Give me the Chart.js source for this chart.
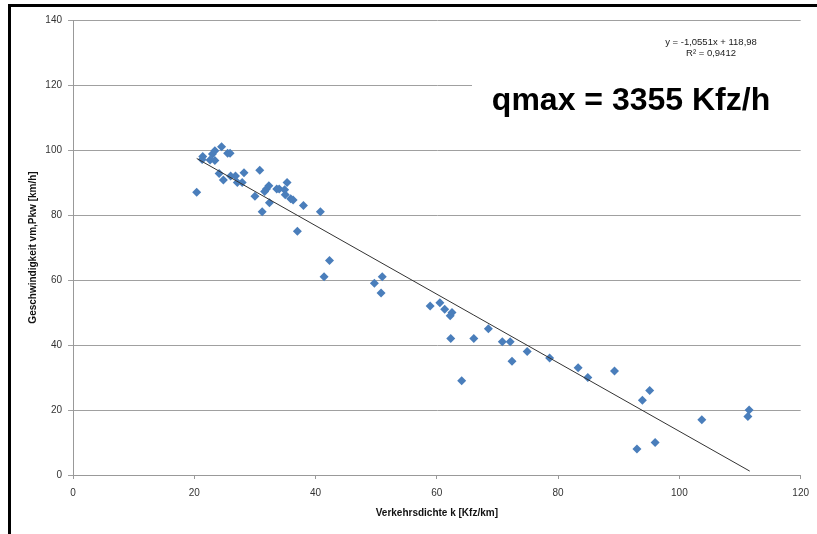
<!DOCTYPE html>
<html>
<head>
<meta charset="utf-8">
<script src="https://cdn.jsdelivr.net/npm/chart.js@4/dist/chart.umd.min.js"></script>
<style>
  html, body { margin: 0; padding: 0; background: #fff; }
  #wrap { width: 817px; height: 534px; }
</style>
</head>
<body>
<div id="wrap"><canvas id="c" width="817" height="534"></canvas></div>
<script>
// Verkehrsdichte k [Kfz/km]
const density = [
  20.4, 21.4, 21.3, 22.6, 23.0, 23.4, 23.4, 24.5, 25.5, 25.9,
  24.1, 24.8, 26.0, 26.8, 27.1, 27.9, 28.2, 30.8, 30.0, 31.2,
  31.6, 31.9, 32.3, 32.4, 33.6, 34.0, 35.3, 34.9, 35.0, 35.9,
  36.3, 38.0, 37.0, 40.8, 41.4, 42.3, 49.7, 51.0, 50.8, 58.9,
  60.5, 61.3, 62.5, 62.2, 62.3, 66.1, 68.5, 64.1, 70.8, 72.1,
  72.4, 74.9, 78.6, 83.3, 84.9, 89.3, 95.1, 93.9, 93.0, 96.0,
  103.7, 111.5, 111.3
];
// Geschwindigkeit vm,Pkw [km/h]
const speed = [
  87.0, 98.0, 97.1, 96.9, 98.8, 99.8, 96.8, 101.0, 99.0, 99.0,
  92.8, 90.8, 92.0, 92.0, 90.0, 90.0, 93.0, 93.8, 85.8, 81.0,
  87.2, 88.0, 89.0, 83.8, 88.0, 88.0, 90.0, 87.8, 86.2, 85.0,
  84.6, 82.9, 75.0, 81.0, 61.0, 66.0, 59.0, 61.0, 56.0, 52.0,
  53.0, 51.0, 50.0, 49.0, 42.0, 42.0, 45.0, 29.0, 41.0, 41.0,
  35.0, 38.0, 36.0, 33.0, 30.0, 32.0, 26.0, 23.0, 8.0, 10.0,
  17.0, 20.0, 18.0
];
// Trendline end points
const trendX = [20.4, 111.6];
const trendY = [97.4, 1.2];

const xTicks = [0, 20, 40, 60, 80, 100, 120];
const yTicks = [0, 20, 40, 60, 80, 100, 120, 140];

const equationText = 'y = -1,0551x + 118,98';
const r2Text = 'R² = 0,9412';
const qmaxText = 'qmax = 3355 Kfz/h';
const xTitle = 'Verkehrsdichte k [Kfz/km]';
const yTitle = 'Geschwindigkeit vm,Pkw [km/h]';

const points = density.map((x, i) => ({ x: x, y: speed[i] }));
const trend = trendX.map((x, i) => ({ x: x, y: trendY[i] }));

const decor = {
  id: 'decor',
  beforeDraw(chart) {
    const ctx = chart.ctx;
    ctx.save();
    ctx.fillStyle = '#ffffff';
    ctx.fillRect(0, 0, chart.width, chart.height);
    ctx.fillStyle = '#000000';
    ctx.fillRect(8, 4, 3, chart.height - 4);
    ctx.fillRect(8, 4, chart.width - 8, 3);
    ctx.restore();
  },
  beforeDatasetsDraw(chart) {
    const ctx = chart.ctx;
    const xs = chart.scales.x, ys = chart.scales.y;
    ctx.save();
    // text box background (hides part of the 120 gridline)
    ctx.fillStyle = '#ffffff';
    ctx.fillRect(472, 70, chart.width - 472, 40);
    ctx.restore();
  },
  afterDraw(chart) {
    const ctx = chart.ctx;
    ctx.save();
    ctx.fillStyle = '#222222';
    ctx.font = '9.5px "Liberation Sans", Arial, sans-serif';
    ctx.textAlign = 'center';
    ctx.textBaseline = 'middle';
    ctx.fillText(equationText, 711, 42);
    ctx.fillText(r2Text, 711, 53);
    ctx.fillStyle = '#000000';
    ctx.font = 'bold 32px "Liberation Sans", Arial, sans-serif';
    ctx.textBaseline = 'alphabetic';
    ctx.fillText(qmaxText, 631, 110);
    ctx.restore();
  }
};

new Chart(document.getElementById('c'), {
  type: 'scatter',
  data: {
    datasets: [
      {
        label: 'Trend',
        data: trend,
        showLine: true,
        borderColor: '#333333',
        borderWidth: 1,
        pointRadius: 0,
        fill: false
      },
      {
        label: 'Messwerte',
        data: points,
        pointStyle: 'rectRot',
        pointRadius: 4.5,
        pointBorderWidth: 0,
        backgroundColor: '#4A7EBB',
        borderColor: '#4A7EBB',
        showLine: false
      }
    ]
  },
  options: {
    responsive: false,
    animation: false,
    layout: { padding: { left: 23, top: 20, right: 12, bottom: 11 } },
    plugins: { legend: { display: false }, tooltip: { enabled: false } },
    scales: {
      x: {
        type: 'linear',
        min: 0, max: 120,
        afterBuildTicks(scale) { scale.ticks = xTicks.map(v => ({ value: v })); },
        afterFit(scale) { scale.height = 48; },
        grid: { drawOnChartArea: false, drawTicks: true, tickLength: 4, color: '#999999' },
        border: { display: true, color: '#999999', width: 1 },
        ticks: { color: '#333333', padding: 8, maxRotation: 0, font: { family: '"Liberation Sans", Arial, sans-serif', size: 10 } },
        title: { display: true, text: xTitle, color: '#111111', font: { family: '"Liberation Sans", Arial, sans-serif', size: 10, weight: 'bold' } }
      },
      y: {
        type: 'linear',
        min: 0, max: 140,
        afterBuildTicks(scale) { scale.ticks = yTicks.map(v => ({ value: v })); },
        afterFit(scale) { scale.width = 50; },
        grid: { drawOnChartArea: true, drawTicks: true, tickLength: 5, color: '#a0a0a0' },
        border: { display: true, color: '#999999', width: 1 },
        ticks: { color: '#333333', padding: 6, font: { family: '"Liberation Sans", Arial, sans-serif', size: 10 } },
        title: { display: true, text: yTitle, color: '#111111', font: { family: '"Liberation Sans", Arial, sans-serif', size: 10, weight: 'bold' } }
      }
    }
  },
  plugins: [decor]
});
</script>
</body>
</html>
